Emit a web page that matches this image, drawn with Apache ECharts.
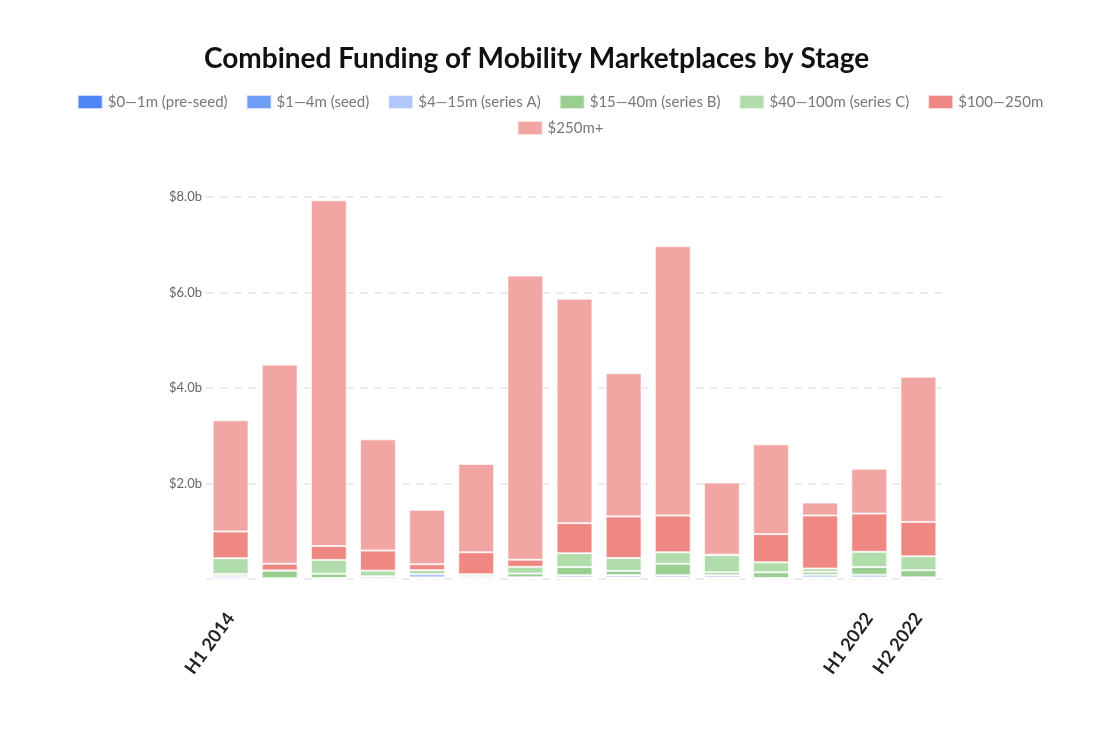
<!DOCTYPE html>
<html>
<head>
<meta charset="utf-8">
<script src="https://cdn.jsdelivr.net/npm/echarts@6/dist/echarts.min.js"></script>
<style>html,body{margin:0;padding:0;background:#fff}#c{width:1120px;height:734px}</style>
</head>
<body>
<div id="c"></div>
<script>
var categories = ["H1 2014","H2 2014","H1 2015","H2 2015","H1 2016","H2 2016","H1 2017","H2 2017","H1 2018","H2 2018","H1 2019","H2 2019","H1 2020","H1 2022","H2 2022"];
var shownLabels = ["H1 2014","H1 2022","H2 2022"];
var seriesNames = ["$0\u20141m (pre-seed)","$1\u20144m (seed)","$4\u201415m (series A)","$15\u201440m (series B)","$40\u2014100m (series C)","$100\u2014250m","$250m+"];
var preSeed  = [0.005,0.005,0.005,0.005,0.01,0.005,0.005,0.01,0.01,0.01,0.01,0.005,0.01,0.01,0.005];
var seed     = [0.01,0.005,0.005,0.005,0.02,0.005,0.01,0.02,0.02,0.02,0.02,0.005,0.02,0.02,0.01];
var seriesA  = [0.05,0.005,0.01,0.04,0.08,0.01,0.02,0.05,0.05,0.05,0.05,0.01,0.06,0.06,0.02];
var seriesB  = [0.04,0.16,0.09,0.005,0.07,0.04,0.08,0.17,0.09,0.24,0.06,0.12,0.06,0.16,0.15];
var seriesC  = [0.33,0.005,0.29,0.12,0.005,0.04,0.14,0.29,0.27,0.24,0.36,0.21,0.07,0.32,0.29];
var round100 = [0.56,0.14,0.29,0.42,0.125,0.46,0.15,0.63,0.87,0.77,0.01,0.59,1.11,0.80,0.72];
var round250 = [2.33,4.17,7.24,2.33,1.14,1.85,5.95,4.70,3.00,5.64,1.51,1.88,0.27,0.94,3.04];
var yTicks = { min: 0, max: 8, interval: 2 };
var colors = ["#4f86f7","#6f9cf5","#b3c8fa","#9bcf92","#b1dcab","#ef8783","#f2a6a4"];

var values = [preSeed, seed, seriesA, seriesB, seriesC, round100, round250];
var series = seriesNames.map(function (n, i) {
  return {
    name: n, type: 'bar', stack: 'total', data: values[i],
    barCategoryGap: '27%',
    itemStyle: { color: colors[i], borderColor: 'rgba(255,255,255,0.7)', borderWidth: 1 },
    emphasis: { disabled: true }
  };
});

var legendBase = {
  left: 'center', itemWidth: 25, itemHeight: 14, itemGap: 18,
  icon: 'rect',
  textStyle: { fontFamily: 'Lato', fontSize: 15, color: '#777' }
};

var chart = echarts.init(document.getElementById('c'), null, { renderer: 'canvas' });
chart.setOption({
  animation: false,
  color: colors,
  title: {
    text: 'Combined Funding of Mobility Marketplaces by Stage',
    left: 199, top: 40,
    textStyle: { fontFamily: 'Lato', fontWeight: 'bold', fontSize: 28, color: '#111' }
  },
  legend: [
    Object.assign({}, legendBase, { top: 89, data: seriesNames.slice(0, 6) }),
    Object.assign({}, legendBase, { top: 115, data: seriesNames.slice(6) })
  ],
  grid: { left: 206, right: 177, top: 197, bottom: 155 },
  xAxis: {
    type: 'category', data: categories,
    axisLine: { show: false }, axisTick: { show: false },
    axisLabel: {
      interval: 0, rotate: 54, margin: 36,
      fontFamily: 'Lato', fontWeight: 'bold', fontSize: 18, color: '#222',
      formatter: function (v) { return shownLabels.indexOf(v) >= 0 ? v : ''; }
    }
  },
  yAxis: {
    type: 'value', min: yTicks.min, max: yTicks.max, interval: yTicks.interval,
    axisLine: { show: false }, axisTick: { show: false },
    axisLabel: {
      showMinLabel: false, margin: 4,
      fontFamily: 'Lato', fontSize: 13, color: '#666',
      formatter: function (v) { return '$' + v.toFixed(1) + 'b'; }
    },
    splitLine: { lineStyle: { color: '#e6e6e6', type: [8, 6], width: 1.5 } }
  },
  series: series
});
</script>
</body>
</html>
